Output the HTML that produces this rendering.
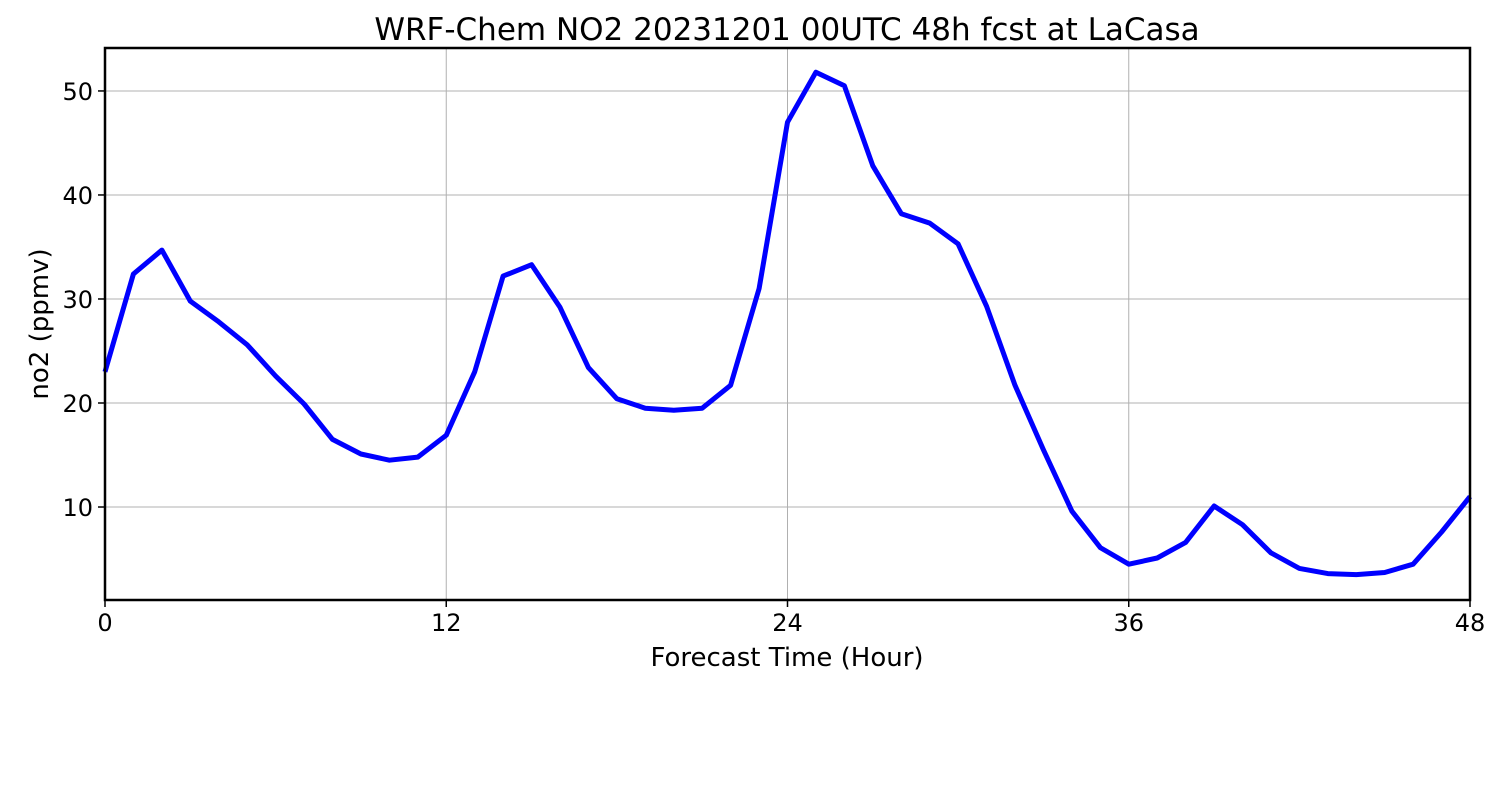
<!DOCTYPE html>
<html><head><meta charset="utf-8"><style>
body{margin:0;background:#fff;}
svg text{font-family:"DejaVu Sans","Liberation Sans",sans-serif;fill:#000;}
</style></head><body>
<svg id="chart" width="1500" height="800" xmlns="http://www.w3.org/2000/svg">
<text x="787" y="40" font-size="31" text-anchor="middle">WRF-Chem NO2  20231201 00UTC 48h fcst at LaCasa</text>
<g id="grid"></g>
<g id="ticks"></g>
<path id="line" fill="none" stroke="#0000ff" stroke-width="5" stroke-linejoin="round"/>
<rect x="105" y="48" width="1365" height="552" fill="none" stroke="#000" stroke-width="2.5"/>
<text x="787" y="666" font-size="26" text-anchor="middle">Forecast Time (Hour)</text>
<text transform="translate(48,324) rotate(-90)" font-size="26" text-anchor="middle">no2  (ppmv)</text>
</svg>
<script>
const hours=[0,1,2,3,4,5,6,7,8,9,10,11,12,13,14,15,16,17,18,19,20,21,22,23,24,25,26,27,28,29,30,31,32,33,34,35,36,37,38,39,40,41,42,43,44,45,46,47,48];
const no2=[23.0,32.4,34.7,29.8,27.8,25.6,22.6,19.9,16.5,15.1,14.5,14.8,16.9,23.0,32.2,33.3,29.2,23.4,20.4,19.5,19.3,19.5,21.7,31.0,47.0,51.8,50.5,42.8,38.2,37.3,35.3,29.3,21.7,15.5,9.6,6.1,4.5,5.1,6.6,10.1,8.3,5.6,4.1,3.6,3.5,3.7,4.5,7.6,11.0];
const xTicks=[0,12,24,36,48];
const yTicks=[10,20,30,40,50];
const X0=105,X1=1470,Y0=600,Y1=48,xMin=0,xMax=48,yMin=1.06,yMax=54.13;
const xs=v=>X0+(v-xMin)/(xMax-xMin)*(X1-X0);
const ys=v=>Y0-(v-yMin)/(yMax-yMin)*(Y0-Y1);
const NS="http://www.w3.org/2000/svg";
const grid=document.getElementById('grid'),tk=document.getElementById('ticks');
function mk(tag,at,parent){const e=document.createElementNS(NS,tag);for(const k in at)e.setAttribute(k,at[k]);parent.appendChild(e);return e;}
xTicks.forEach(t=>{
 const g=mk('line',{x1:xs(t),x2:xs(t),y1:Y1,y2:Y0,stroke:'#b0b0b0','stroke-width':1},grid);
 
 
 const m=mk('line',{x1:xs(t),x2:xs(t),y1:Y0,y2:Y0+7,stroke:'#000','stroke-width':1.5},tk);
 
 
 const l=mk('text',{x:xs(t),y:Y0+31,'font-size':24,'text-anchor':'middle'},tk);
 l.textContent=t;
 
 
});
yTicks.forEach(t=>{
 const g=mk('line',{x1:X0,x2:X1,y1:ys(t),y2:ys(t),stroke:'#b0b0b0','stroke-width':1},grid);
 
 
 const m=mk('line',{x1:X0-7,x2:X0,y1:ys(t),y2:ys(t),stroke:'#000','stroke-width':1.5},tk);
 
 
 const l=mk('text',{x:X0-12,y:ys(t)+9,'font-size':24,'text-anchor':'end'},tk);
 l.textContent=t;
 
 
});
document.getElementById('line').setAttribute('d',hours.map((h,i)=>(i?'L':'M')+xs(h).toFixed(1)+','+ys(no2[i]).toFixed(1)).join(' '));
</script>
</body></html>
